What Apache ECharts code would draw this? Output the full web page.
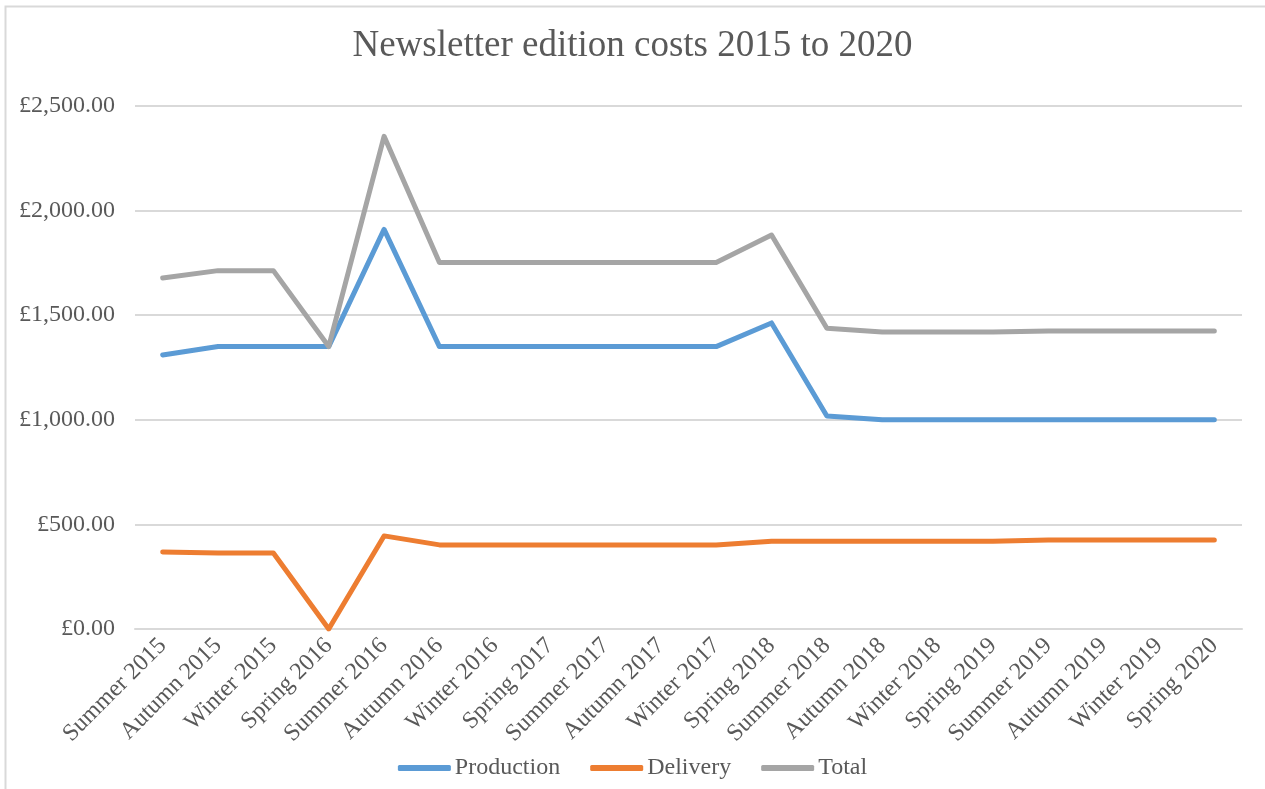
<!DOCTYPE html>
<html>
<head>
<meta charset="utf-8">
<script src="https://cdn.jsdelivr.net/npm/echarts@6/dist/echarts.min.js"></script>
<style>
  html, body { margin: 0; padding: 0; background: #fff; }
  #chart { width: 1265px; height: 789px; }
</style>
</head>
<body>
<div id="chart"></div>
<script>
// editions
const editions = [
  "Summer 2015", "Autumn 2015", "Winter 2015", "Spring 2016", "Summer 2016",
  "Autumn 2016", "Winter 2016", "Spring 2017", "Summer 2017", "Autumn 2017",
  "Winter 2017", "Spring 2018", "Summer 2018", "Autumn 2018", "Winter 2018",
  "Spring 2019", "Summer 2019", "Autumn 2019", "Winter 2019", "Spring 2020"
];
// costs in £
const production = [1310, 1350, 1350, 1350, 1910, 1350, 1350, 1350, 1350, 1350, 1350, 1463, 1018, 1000, 1000, 1000, 1000, 1000, 1000, 1000];
const delivery   = [368, 363, 363, 0, 445, 402, 402, 402, 402, 402, 402, 420, 420, 420, 420, 420, 425, 425, 425, 425];
const total      = [1678, 1713, 1713, 1350, 2355, 1752, 1752, 1752, 1752, 1752, 1752, 1883, 1438, 1420, 1420, 1420, 1425, 1425, 1425, 1425];
const yTicks = { min: 0, max: 2500, step: 500 };

const serif = "'Liberation Serif', 'DejaVu Serif', serif";
const txt = "#595959";

const chart = echarts.init(document.getElementById("chart"));

function line(name, data, color) {
  return {
    name: name,
    type: "line",
    data: data,
    symbol: "none",
    lineStyle: { width: 5, color: color, cap: "round", join: "round" },
    itemStyle: { color: color }
  };
}

const option = {
  animation: false,
  backgroundColor: "#fff",
  title: {
    text: "Newsletter edition costs 2015 to 2020",
    left: "center",
    top: 23,
    textStyle: { fontFamily: serif, fontSize: 37, fontWeight: "normal", color: txt }
  },
  graphic: [
    {
      type: "rect",
      shape: { x: 5.5, y: 6.5, width: 1300, height: 820 },
      style: { fill: "none", stroke: "#d9d9d9", lineWidth: 2 },
      silent: true
    }
  ],
  grid: { left: 135, right: 23, top: 106, bottom: 160 },
  legend: {
    bottom: 4,
    left: "center",
    icon: "roundRect",
    itemWidth: 53,
    itemHeight: 6,
    itemGap: 30,
    textStyle: { fontFamily: serif, fontSize: 24, color: txt, padding: [0, 0, 0, -1] },
    data: ["Production", "Delivery", "Total"]
  },
  xAxis: {
    type: "category",
    boundaryGap: true,
    data: editions,
    axisLine: { lineStyle: { color: "#d9d9d9", width: 2 } },
    axisTick: { show: false },
    axisLabel: {
      rotate: 45,
      interval: 0,
      margin: 13,
      fontFamily: serif,
      fontSize: 24,
      color: txt
    }
  },
  yAxis: {
    type: "value",
    min: yTicks.min,
    max: yTicks.max,
    interval: yTicks.step,
    axisLine: { show: false },
    axisTick: { show: false },
    splitLine: { lineStyle: { color: "#d9d9d9", width: 2 } },
    axisLabel: {
      margin: 20,
      fontFamily: serif,
      fontSize: 24,
      color: txt,
      formatter: v => "£" + v.toLocaleString("en-GB", { minimumFractionDigits: 2, maximumFractionDigits: 2 })
    }
  },
  series: [
    line("Production", production, "#5b9bd5"),
    line("Delivery", delivery, "#ed7d31"),
    line("Total", total, "#a5a5a5")
  ]
};

chart.setOption(option);
</script>
</body>
</html>
